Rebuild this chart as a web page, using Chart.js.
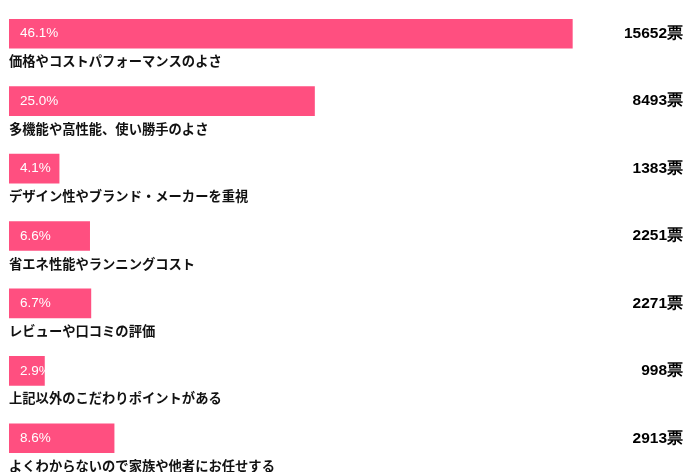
<!DOCTYPE html>
<html lang="ja">
<head>
<meta charset="utf-8">
<script src="https://cdn.jsdelivr.net/npm/chart.js@4/dist/chart.umd.min.js"></script>
<style>
  html, body { margin: 0; padding: 0; background: #ffffff; }
  #wrap { position: relative; width: 684px; height: 472px; }
</style>
</head>
<body>
<div id="wrap"><canvas id="chart"></canvas></div>
<script>
// Survey answers: what matters most when choosing
const categories = [
  '価格やコストパフォーマンスのよさ',
  '多機能や高性能、使い勝手のよさ',
  'デザイン性やブランド・メーカーを重視',
  '省エネ性能やランニングコスト',
  'レビューや口コミの評価',
  '上記以外のこだわりポイントがある',
  'よくわからないので家族や他者にお任せする'
];
const percents = [46.1, 25.0, 4.1, 6.6, 6.7, 2.9, 8.6];
const votes = [15652, 8493, 1383, 2251, 2271, 998, 2913];

const BAR_COLOR = '#ff4f80';
const JP_FONT = '"Noto Sans CJK JP", "Noto Sans", sans-serif';
const NUM_FONT = '"Liberation Sans", Arial, sans-serif';

// Draws the percentage inside each bar, the answer text under it and the vote count on the right
const barLabels = {
  id: 'barLabels',
  afterDatasetsDraw(chart) {
    const ctx = chart.ctx;
    const meta = chart.getDatasetMeta(0);
    ctx.save();
    meta.data.forEach((bar, i) => {
      const bottom = bar.y + bar.height / 2;

      ctx.textBaseline = 'middle';
      ctx.textAlign = 'left';
      ctx.fillStyle = '#ffffff';
      ctx.font = '13.5px ' + NUM_FONT;
      ctx.fillText(percents[i].toFixed(1) + '%', bar.base + 11, bar.y);

      ctx.fillStyle = '#111111';
      ctx.font = 'bold 13.3px ' + JP_FONT;
      ctx.fillText(categories[i], bar.base, bottom + 13);

      ctx.textAlign = 'right';
      ctx.fillStyle = '#000000';
      ctx.font = 'bold 15.5px ' + NUM_FONT;
      ctx.fillText(votes[i] + '票', chart.width - 1, bar.y);
    });
    ctx.restore();
  }
};

new Chart(document.getElementById('chart'), {
  type: 'bar',
  data: {
    labels: categories,
    datasets: [{
      data: percents,
      backgroundColor: BAR_COLOR,
      borderWidth: 0,
      barThickness: 29
    }]
  },
  options: {
    indexAxis: 'y',
    responsive: true,
    maintainAspectRatio: false,
    animation: false,
    layout: { padding: { left: 9, right: 64, top: 0, bottom: 0 } },
    plugins: {
      legend: { display: false },
      tooltip: { enabled: false }
    },
    scales: {
      x: { display: false, min: 0, max: 50, grid: { display: false } },
      y: { display: false, grid: { display: false } }
    }
  },
  plugins: [barLabels]
});
</script>
</body>
</html>
